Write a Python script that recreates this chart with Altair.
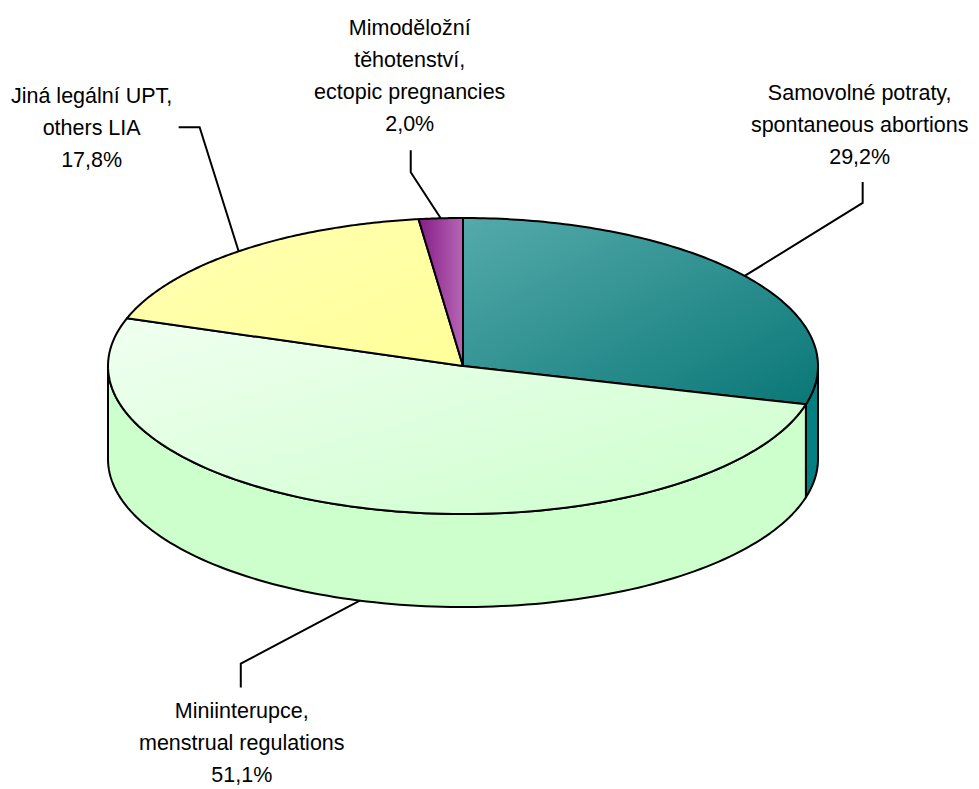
import altair as alt
import pandas as pd

# ---------------- data ----------------
keys = ["samovolne", "mini", "jina", "mimo"]
label_lines = [
    "Samovolné potraty,\nspontaneous abortions",
    "Miniinterupce,\nmenstrual regulations",
    "Jiná legální UPT,\nothers LIA",
    "Mimoděložní\ntěhotenství,\nectopic pregnancies",
]
values = [29.2, 51.1, 17.8, 2.0]

# ---------------- layout / style (kept apart from the data) ----------------
W, H = 963, 781
CX, CY, RX, RY, DEPTH = 455, 358, 355, 148, 93
N = 120
# leader-line elbow / end and text offsets, relative to the slice's edge anchor
elbow_dx = [118, -119, -39, -30]
elbow_dy = [-73, 63, -124, -46]
end_dx = [118, -119, -60, -30]
end_dy = [-94, 87, -124, -68]
text_dx = [115, -118, -147, -31]
text_dy = [-176, 117, -148, -183]


def grad(c0, c1, x2=1, y2=1):
    return alt.Gradient(
        gradient="linear",
        stops=[alt.GradientStop(color=c0, offset=0), alt.GradientStop(color=c1, offset=1)],
        x1=0, y1=0, x2=x2, y2=y2,
    )


top_fill = {
    "samovolne": grad("#55aaaa", "#0a7777"),
    "mini": grad("#f0fff0", "#ccffcc"),
    "jina": grad("#ffffb4", "#ffff99"),
    "mimo": grad("#861c86", "#b666b6", 1, 0),
}
side_fill = {"samovolne": "#008080", "mini": "#ccffcc", "jina": "#ffff99", "mimo": "#993399"}

df = pd.DataFrame({
    "key": keys,
    "label": label_lines,
    "value": values,
    "order": list(range(len(keys))),
    "edx": elbow_dx, "edy": elbow_dy,
    "ndx": end_dx, "ndy": end_dy,
    "tdx": text_dx, "tdy": text_dy,
})

xs = alt.Scale(domain=[0, W], nice=False, zero=False)
ys = alt.Scale(domain=[0, H], reverse=True, nice=False, zero=False)

base = (
    alt.Chart(df)
    .transform_joinaggregate(total="sum(value)")
    .transform_window(cum="sum(value)", sort=[alt.SortField("order")], frame=[None, 0])
    .transform_calculate(
        t0="2*PI*(datum.cum-datum.value)/datum.total",
        t1="2*PI*datum.cum/datum.total",
    )
    .transform_calculate(mid="(datum.t0+datum.t1)/2")
    .transform_calculate(
        ax=f"{CX}+{RX}*sin(datum.mid)",
        ay=f"{CY}-{RY}*cos(datum.mid)+(cos(datum.mid)<0?{DEPTH}:0)",
    )
)


def enc(ch):
    return ch.encode(
        x=alt.X("px:Q", scale=xs, axis=None),
        y=alt.Y("py:Q", scale=ys, axis=None),
        order=alt.Order("i:Q"),
    )


layers = []
# side faces (front half only)
for k in keys:
    side = (
        base.transform_filter(alt.datum.key == k)
        .transform_calculate(a0="max(datum.t0, PI/2)", a1="min(datum.t1, 3*PI/2)")
        .transform_filter("datum.a1 > datum.a0")
        .transform_calculate(i=f"sequence(0, {2 * N + 3})")
        .transform_flatten(["i"])
        .transform_calculate(
            j=f"datum.i<={N} ? datum.i : (datum.i<={2 * N + 1} ? {2 * N + 1}-datum.i : 0)",
            b=f"(datum.i>{N} && datum.i<={2 * N + 1}) ? 1 : 0",
        )
        .transform_calculate(a=f"datum.a0+(datum.a1-datum.a0)*datum.j/{N}")
        .transform_calculate(
            px=f"{CX}+{RX}*sin(datum.a)",
            py=f"{CY}-{RY}*cos(datum.a)+datum.b*{DEPTH}",
        )
        .mark_line(fill=side_fill[k], stroke="black", strokeWidth=2, strokeJoin="round")
    )
    layers.append(enc(side))

# top faces
for k in keys:
    top = (
        base.transform_filter(alt.datum.key == k)
        .transform_calculate(i=f"sequence(-1, {N + 2})")
        .transform_flatten(["i"])
        .transform_calculate(a=f"datum.t0+(datum.t1-datum.t0)*datum.i/{N}")
        .transform_calculate(
            px=f"(datum.i<0||datum.i>{N}) ? {CX} : {CX}+{RX}*sin(datum.a)",
            py=f"(datum.i<0||datum.i>{N}) ? {CY} : {CY}-{RY}*cos(datum.a)",
        )
        .mark_line(fill=top_fill[k], stroke="black", strokeWidth=2, strokeJoin="round")
    )
    layers.append(enc(top))

# leader lines
leaders = (
    base.transform_calculate(i="sequence(0, 3)")
    .transform_flatten(["i"])
    .transform_calculate(
        px="datum.i==0 ? datum.ax : (datum.i==1 ? datum.ax+datum.edx : datum.ax+datum.ndx)",
        py="datum.i==0 ? datum.ay : (datum.i==1 ? datum.ay+datum.edy : datum.ay+datum.ndy)",
    )
    .mark_line(stroke="black", strokeWidth=2)
    .encode(
        x=alt.X("px:Q", scale=xs, axis=None),
        y=alt.Y("py:Q", scale=ys, axis=None),
        order=alt.Order("i:Q"),
        detail="key:N",
    )
)
layers.append(leaders)

# labels
texts = (
    base.transform_calculate(
        tx="datum.ax+datum.tdx",
        ty="datum.ay+datum.tdy",
        txt="datum.label + '\\n' + replace(format(datum.value, '.1f'), '.', ',') + '%'",
    )
    .mark_text(
        font="Liberation Sans, Arial, sans-serif",
        fontSize=21.5,
        lineHeight=32,
        lineBreak="\n",
        align="center",
        baseline="alphabetic",
        color="black",
    )
    .encode(
        x=alt.X("tx:Q", scale=xs, axis=None),
        y=alt.Y("ty:Q", scale=ys, axis=None),
        text="txt:N",
    )
)
layers.append(texts)

chart = (
    alt.layer(*layers)
    .properties(width=W, height=H, autosize=alt.AutoSizeParams(type="none"), padding=0)
    .configure_view(stroke=None)
)

chart.save("out.html", embed_options={"renderer": "svg", "actions": False})
